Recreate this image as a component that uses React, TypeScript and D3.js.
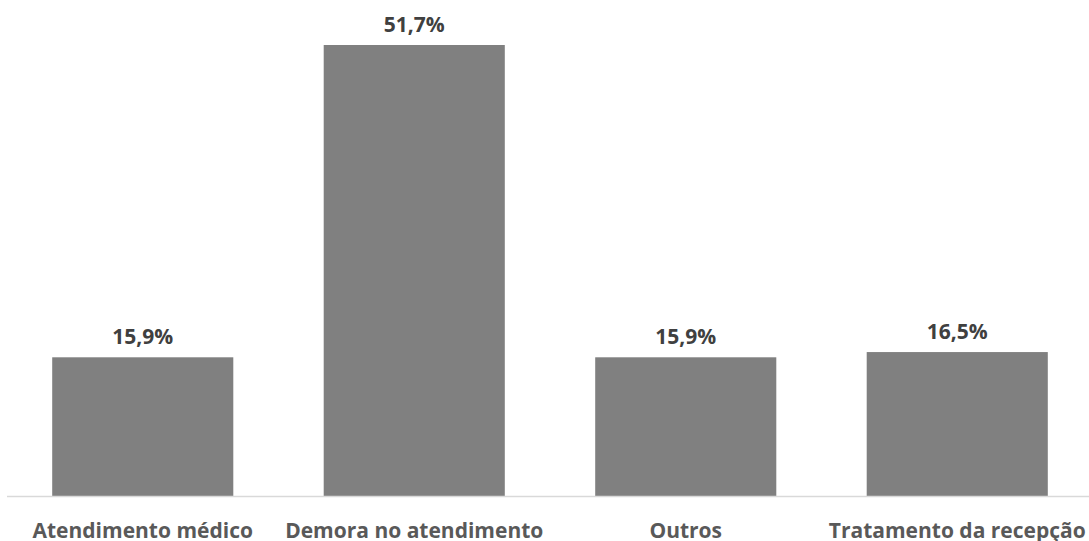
import React from "react";
import * as d3 from "d3";

const categories = ["Atendimento médico", "Demora no atendimento", "Outros", "Tratamento da recepção"];
const values = [15.9, 51.7, 15.9, 16.5];

const W = 1089;
const H = 541;

export default function App() {
  const x = d3.scaleBand<string>().domain(categories).range([7, 1093]).paddingInner(0.333).paddingOuter(0.1665);
  const y = d3.scaleLinear().domain([0, 51.7]).range([496, 45]);
  const fmt = (v: number) => v.toFixed(1).replace(".", ",") + "%";
  return (
    <svg width={W} height={H} style={{ position: "absolute", left: 0, top: 0, background: "#fff" }}
      fontFamily="'Open Sans', sans-serif">
      {categories.map((c, i) => (
        <rect key={c} x={x(c)} y={y(values[i])} width={x.bandwidth()} height={496 - y(values[i])} fill="#808080" />
      ))}
      <line x1={7} x2={1089} y1={496.5} y2={496.5} stroke="#d9d9d9" strokeWidth={1.5} />
      {categories.map((c, i) => (
        <text key={"v" + c} x={(x(c) as number) + x.bandwidth() / 2} y={y(values[i]) - 13}
          textAnchor="middle" fontSize={21} fontWeight={700} fill="#404040">{fmt(values[i])}</text>
      ))}
      {categories.map((c) => (
        <text key={"c" + c} x={(x(c) as number) + x.bandwidth() / 2} y={538}
          textAnchor="middle" fontSize={21} fontWeight={700} fill="#595959">{c}</text>
      ))}
    </svg>
  );
}
